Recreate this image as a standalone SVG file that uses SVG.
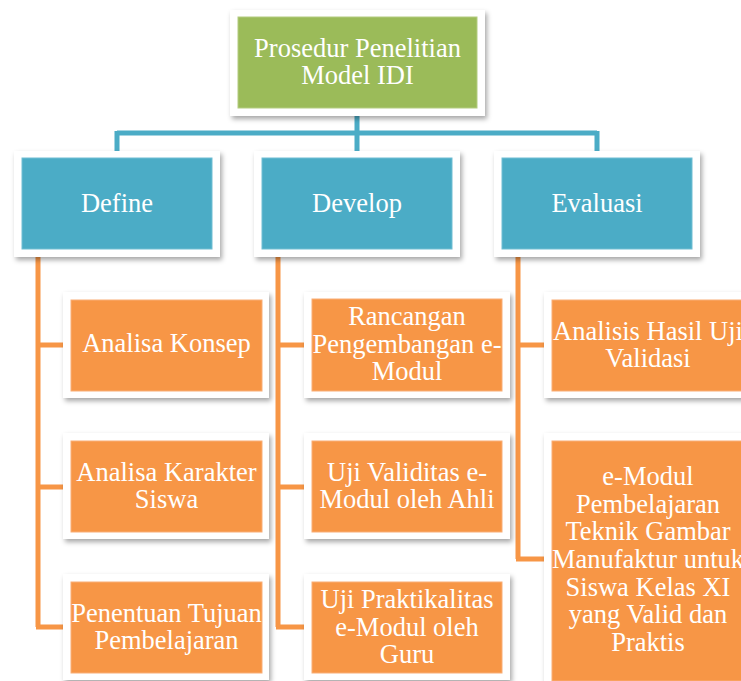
<svg xmlns="http://www.w3.org/2000/svg" width="741" height="681" viewBox="0 0 741 681">
<defs>
<filter id="sh" x="-10%" y="-10%" width="125%" height="130%">
<feDropShadow dx="2" dy="3" stdDeviation="2.5" flood-color="#000" flood-opacity="0.35"/>
</filter>
<style>
.frame{fill:#fff;filter:url(#sh)}
.g{fill:#9BBB59;stroke:#B3CC80;stroke-width:1}
.b{fill:#4BACC6;stroke:#70BED3;stroke-width:1}
.o{fill:#F79646;stroke:#F9AE76;stroke-width:1}
text{font-family:"Liberation Serif","Times New Roman",serif;font-size:26.5px;fill:#fff;text-anchor:middle}
.cb{fill:none;stroke:#4BACC6;stroke-width:5}
.co{fill:none;stroke:#F79646;stroke-width:5}
</style>
</defs>
<rect width="741" height="681" fill="#fff"/>
<g id="connectors">
<path class="cb" d="M357,110 V133 M117,133 H597 M117,131 V152 M357,131 V152 M597,131 V152"/>
<path class="co" d="M38,250 V627 M38,345 H72 M38,487 H72 M36,627 H72"/>
<path class="co" d="M278,250 V627 M278,345 H313 M278,487 H313 M276,627 H313"/>
<path class="co" d="M518,250 V559 M518,345 H553 M516,559 H553"/>
</g>
<g id="root">
<rect class="frame" x="230" y="10" width="255" height="106"/>
<rect class="g" x="238" y="17" width="239" height="91"/>
<text x="357.5" y="57.3">Prosedur Penelitian</text>
<text x="357.5" y="84.3">Model IDI</text>
</g>
<g id="define">
<rect class="frame" x="14" y="151" width="206" height="106"/>
<rect class="b" x="22" y="158" width="190" height="91"/>
<text x="117" y="212">Define</text>
</g>
<g id="develop">
<rect class="frame" x="254" y="151" width="206" height="106"/>
<rect class="b" x="262" y="158" width="190" height="91"/>
<text x="357" y="212">Develop</text>
</g>
<g id="evaluasi">
<rect class="frame" x="494" y="151" width="206" height="106"/>
<rect class="b" x="502" y="158" width="190" height="91"/>
<text x="597" y="212">Evaluasi</text>
</g>
<g id="analisa-konsep">
<rect class="frame" x="63" y="292" width="206" height="106"/>
<rect class="o" x="71" y="300" width="191" height="91"/>
<text x="166.5" y="352.3">Analisa Konsep</text>
</g>
<g id="analisa-karakter">
<rect class="frame" x="63" y="433" width="206" height="106"/>
<rect class="o" x="71" y="441" width="191" height="91"/>
<text x="166.5" y="481">Analisa Karakter</text>
<text x="166.5" y="507.7">Siswa</text>
</g>
<g id="penentuan-tujuan">
<rect class="frame" x="63" y="574" width="206" height="106"/>
<rect class="o" x="71" y="582" width="191" height="91"/>
<text x="166.5" y="621.7">Penentuan Tujuan</text>
<text x="166.5" y="648.7">Pembelajaran</text>
</g>
<g id="rancangan">
<rect class="frame" x="304" y="292" width="206" height="106"/>
<rect class="o" x="312" y="299" width="190" height="92"/>
<text x="407" y="325">Rancangan</text>
<text x="407" y="352.7">Pengembangan e-</text>
<text x="407" y="380">Modul</text>
</g>
<g id="uji-validitas">
<rect class="frame" x="304" y="433" width="206" height="106"/>
<rect class="o" x="312" y="441" width="190" height="91"/>
<text x="407" y="481">Uji Validitas e-</text>
<text x="407" y="507.7">Modul oleh Ahli</text>
</g>
<g id="uji-praktikalitas">
<rect class="frame" x="304" y="574" width="206" height="106"/>
<rect class="o" x="312" y="582" width="190" height="91"/>
<text x="407" y="608.3">Uji Praktikalitas</text>
<text x="407" y="636">e-Modul oleh</text>
<text x="407" y="662.7">Guru</text>
</g>
<g id="analisis-hasil">
<rect class="frame" x="544" y="292" width="206" height="106"/>
<rect class="o" x="552" y="300" width="191" height="91"/>
<text x="648" y="340">Analisis Hasil Uji</text>
<text x="648" y="367.3">Validasi</text>
</g>
<g id="emodul">
<rect class="frame" x="544" y="433" width="206" height="260"/>
<rect class="o" x="552" y="441" width="191" height="240"/>
<text x="648" y="485">e-Modul</text>
<text x="648" y="512.7">Pembelajaran</text>
<text x="648" y="540.3">Teknik Gambar</text>
<text x="648" y="568.3">Manufaktur untuk</text>
<text x="648" y="596">Siswa Kelas XI</text>
<text x="648" y="623.3">yang Valid dan</text>
<text x="648" y="651">Praktis</text>
</g>
</svg>
